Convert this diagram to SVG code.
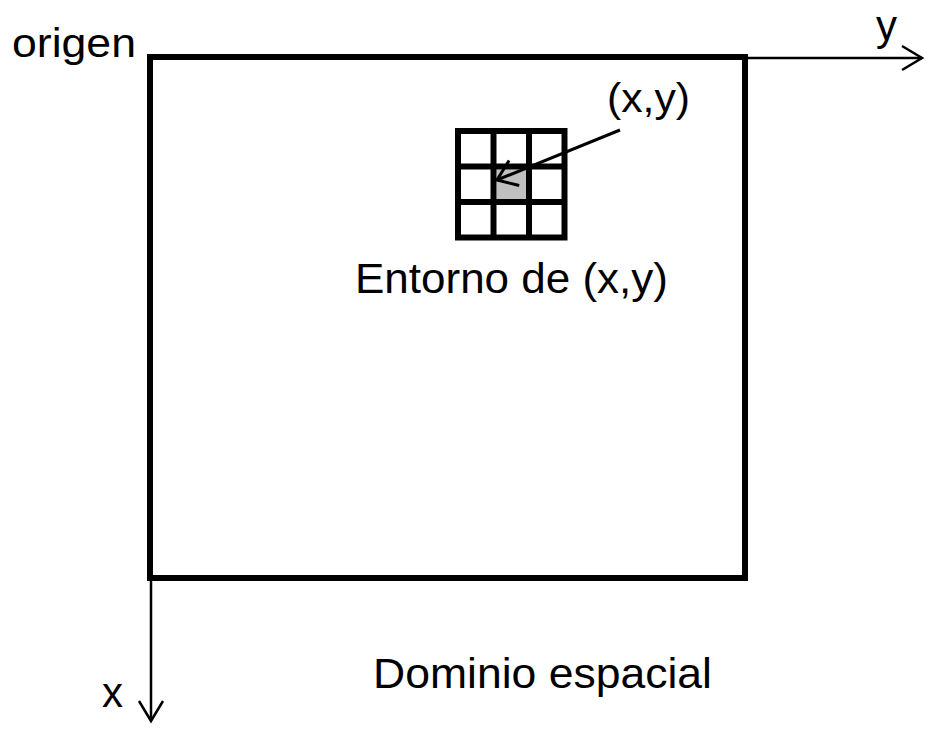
<svg xmlns="http://www.w3.org/2000/svg" width="936" height="735" viewBox="0 0 936 735">
<style>
text{font-family:"Liberation Sans",Arial,sans-serif;fill:#000}
.ax{stroke:#000;stroke-width:2.5;fill:none}
.g{stroke:#000;stroke-width:6;fill:none}
</style>
<defs>
<marker id="ah" markerUnits="userSpaceOnUse" orient="auto" refX="0" refY="0" markerWidth="40" markerHeight="40" viewBox="-25 -20 30 40" overflow="visible">
<path d="M -20 -12 L 0 0 L -20 12" fill="none" stroke="#000" stroke-width="2.5"/>
</marker>
<marker id="ph" markerUnits="userSpaceOnUse" orient="auto" refX="0" refY="0" markerWidth="40" markerHeight="40" viewBox="-25 -20 30 40" overflow="visible">
<path d="M -18.5 -13.5 L 0 0 L -18.5 13.5" fill="none" stroke="#000" stroke-width="3"/>
</marker>
</defs>
<rect width="936" height="735" fill="#fff"/>
<g id="dominio">
<rect x="150" y="57" width="595" height="521" fill="none" stroke="#000" stroke-width="6"/>
<text x="373" y="688" font-size="42" textLength="339" lengthAdjust="spacingAndGlyphs">Dominio espacial</text>
</g>
<g id="entorno">
<rect x="496.5" y="169.5" width="30" height="30" fill="#c0c0c0"/>
<rect class="g" x="458" y="131" width="106.5" height="106.5"/>
<line class="g" x1="493.5" y1="131" x2="493.5" y2="237.5"/>
<line class="g" x1="529" y1="131" x2="529" y2="237.5"/>
<line class="g" x1="458" y1="166.5" x2="564.5" y2="166.5"/>
<line class="g" x1="458" y1="202" x2="564.5" y2="202"/>
<text x="355" y="293" font-size="42" textLength="313" lengthAdjust="spacingAndGlyphs">Entorno de (x,y)</text>
</g>
<g id="punto">
<text x="607" y="112" font-size="40" textLength="83" lengthAdjust="spacingAndGlyphs">(x,y)</text>
</g>
<g id="origen">
<text x="12" y="57" font-size="40" textLength="124" lengthAdjust="spacingAndGlyphs">origen</text>
</g>
<g id="eje-y">
<text x="876" y="40" font-size="42">y</text>
</g>
<g id="eje-x">
<text x="102" y="707" font-size="42">x</text>
</g>
<g id="connectors">
<line class="ax" x1="745" y1="58" x2="922" y2="58" marker-end="url(#ah)"/>
<line class="ax" x1="151" y1="578" x2="151" y2="721" marker-end="url(#ah)"/>
<line x1="620" y1="130" x2="497" y2="180" stroke="#000" stroke-width="3" marker-end="url(#ph)"/>
</g>
</svg>
